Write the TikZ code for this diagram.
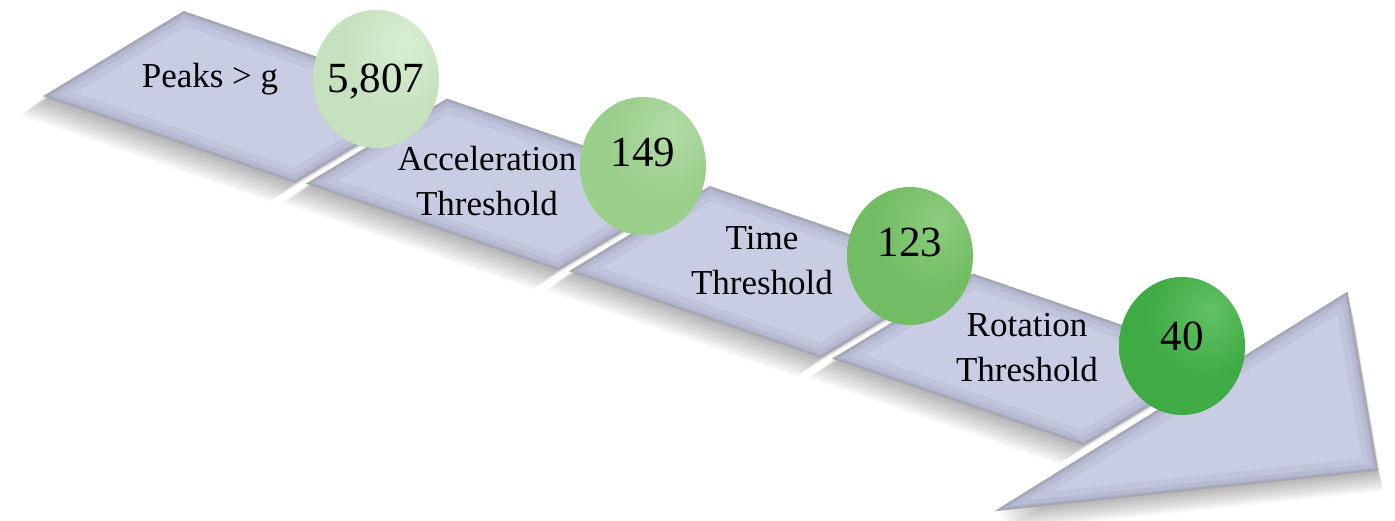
\documentclass[tikz,border=0pt]{standalone}
\usepackage{fontspec}
\setmainfont{Liberation Serif}
\usepackage{tikz}
\usetikzlibrary{shapes.geometric,positioning,calc}

\definecolor{segbase}{HTML}{C9CDE4}
\definecolor{segedge}{HTML}{8E92AE}
\definecolor{segline}{HTML}{A6A6AE}

% colours used by the ball shading
\colorlet{ballhi}{white}
\colorlet{ballmid}{green}
\colorlet{balllo}{black}
\pgfdeclareradialshading[ballhi,ballmid,balllo]{greenball}{\pgfpoint{12bp}{14bp}}%
  {color(0bp)=(ballhi); color(22bp)=(ballmid); color(48bp)=(ballmid); color(72bp)=(balllo)}

% one band piece and the head
\newcommand{\segshape}[1]{(45+263*#1,96+87.5*#1) -- ++(139,-84) -- ++(250,86) -- ++(-139,84) -- cycle}
\newcommand{\headshape}{(998,510) -- (1347,293) -- (1377,470) -- cycle}

\tikzset{
  ball/.style n args={3}{shape=ellipse, minimum width=126, minimum height=138, inner sep=0,
    /utils/exec={\definecolor{ballhi}{HTML}{#1}\definecolor{ballmid}{HTML}{#2}\definecolor{balllo}{HTML}{#3}},
    shade, shading=greenball},
  lbl/.style={font=\fontsize{35}{45}\selectfont, align=center, inner sep=0},
  num/.style={font=\fontsize{43}{48}\selectfont, anchor=base, inner sep=0},
}

\begin{document}
\begin{tikzpicture}[x=1pt, y=-1pt]
  \useasboundingbox (0,0) rectangle (1395,521);

  % soft shadows
  \foreach \s in {1,...,14} {
    \foreach \i in {0,...,3}
      \fill[black, opacity=0.022, shift={(-1.8*\s,1.4*\s)}] \segshape{\i};
    \fill[black, opacity=0.022, shift={(0.45*\s,1.5*\s)}] \headshape;
  }

  % band pieces
  \foreach \i in {0,...,3} {
    \begin{scope}
      \clip \segshape{\i};
      \fill[segbase] \segshape{\i};
      \draw[segedge, line width=26, opacity=0.15] \segshape{\i};
      \draw[segedge, line width=13, opacity=0.2] \segshape{\i};
      \draw[segedge, line width=5, opacity=0.25] \segshape{\i};
    \end{scope}
    \draw[segline, line width=1.8] \segshape{\i};
  }

  % arrow head
  \begin{scope}
    \clip \headshape;
    \fill[segbase] \headshape;
    \draw[segedge, line width=26, opacity=0.15] \headshape;
    \draw[segedge, line width=13, opacity=0.2] \headshape;
    \draw[segedge, line width=5, opacity=0.25] \headshape;
  \end{scope}
  \draw[segline, line width=1.8] \headshape;

  % labels
  \node[lbl] (peaks) at (210,79) {Peaks > g};
  \node[lbl] (accel) at (487,181) {Acceleration\\Threshold};
  \node[lbl] (time) at (762,261) {Time\\Threshold};
  \node[lbl] (rot) at (1027,348) {Rotation\\Threshold};

  % counts
  \node[ball={D9EED3}{C6E1BD}{A4C49B}] (c1) at (376,79) {};
  \node[ball={B2DCA6}{9ACE8B}{7AAE6D}] (c2) at (643,166) {};
  \node[ball={8DCC7F}{72BD63}{559C48}] (c3) at (910,256) {};
  \node[ball={62C263}{3FAB44}{2A8630}] (c4) at (1182,346) {};

  \node[num] (n1) at ([yshift=-14pt]c1.center) {5,807};
  \node[num] (n2) at ([yshift=-1pt]c2.center) {149};
  \node[num] (n3) at ([yshift=-1pt]c3.center) {123};
  \node[num] (n4) at ([yshift=-4pt]c4.center) {40};
\end{tikzpicture}
\end{document}
